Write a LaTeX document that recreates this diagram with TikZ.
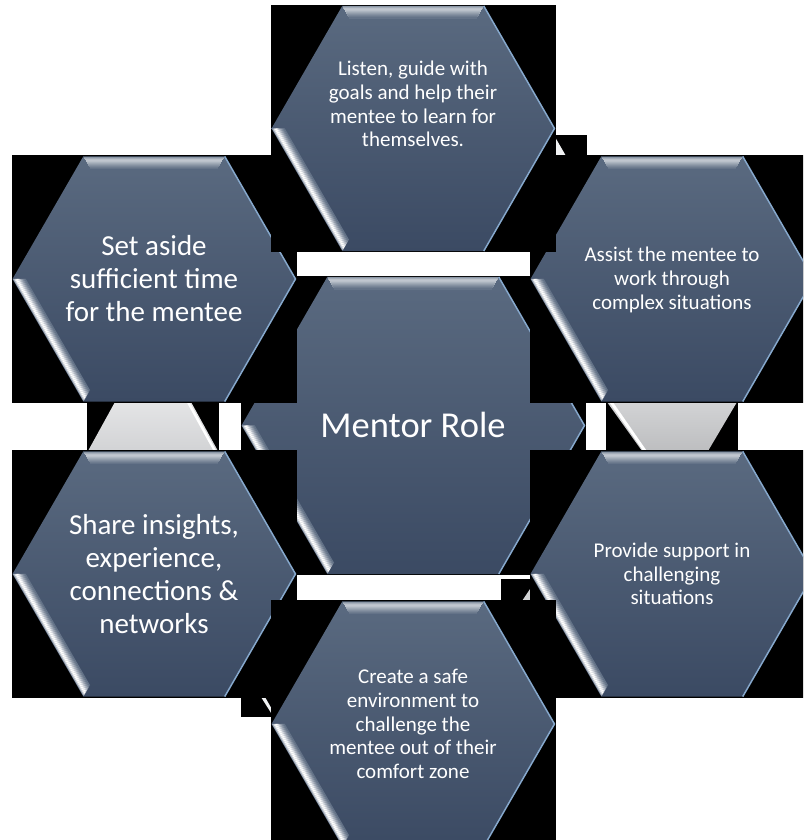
\documentclass[tikz,border=0pt]{standalone}
\usepackage{fontspec}
\setmainfont{Carlito}

\definecolor{hexTop}{HTML}{5A6A80}
\definecolor{hexBot}{HTML}{3B4A63}
\definecolor{hexEdge}{HTML}{86A8CC}
\definecolor{joinGray}{HTML}{D2D3D5}

% one bevelled hexagon on its black backing box: centre x, centre y, radius
\newcommand{\hexcell}[3]{%
  \pgfmathsetmacro{\hexR}{#3}%
  \pgfmathsetmacro{\hexH}{0.866*#3}%
  \fill[black] (#1-\hexR-1,#2-\hexH-1) rectangle (#1+\hexR+1,#2+\hexH+1);
  \shade[top color=hexTop,bottom color=hexBot] (#1-\hexR,#2) -- ++(\hexR/2,-\hexH)
    -- ++(\hexR,0) -- ++(\hexR/2,\hexH) -- ++(-\hexR/2,\hexH) -- ++(-\hexR,0) -- cycle;
  % top bevel
  \foreach \k/\p in {1/30,2/45,3/58,4/62,5/58,6/50,7/42,8/34,9/26,10/19,11/12,12/6}
    \draw[white!\p!hexTop,line width=1.1pt] (#1-\hexR/2+0.577*\k,#2-\hexH+\k)
      -- (#1+\hexR/2-0.577*\k,#2-\hexH+\k);
  % lit lower left side
  \foreach \k/\p in {1/45,2/80,3/100,4/100,5/90,6/72,7/55,8/40,9/26,10/14,11/6}
    \draw[white!\p!hexTop,line width=1.1pt] (#1-\hexR+1.155*\k,#2)
      -- (#1-\hexR/2+0.577*\k,#2+\hexH-\k);
  % rim on the right
  \draw[hexEdge,line width=1.5pt] (#1+\hexR/2,#2-\hexH) -- (#1+\hexR,#2) -- (#1+\hexR/2,#2+\hexH);
}

\begin{document}
\begin{tikzpicture}[x=1pt,y=-1pt,
        cell/.style={text=white,align=center,inner sep=0pt,
            font=\fontsize{21}{23.7}\selectfont},
        bigcell/.style={cell,font=\fontsize{29}{33}\selectfont}]
\clip (0,0) rectangle (803,840);

% middle cell goes under the ring
\hexcell{413}{425.5}{171.5}
\node[cell,font=\fontsize{36.5}{40}\selectfont] (role) at (413,425) {Mentor Role};

% grey joins showing between the cells
\fill[black] (87,402) rectangle (219,451);
\shade[top color=white!40!joinGray,bottom color=joinGray]
    (115,402) -- (191,402) -- (218,451) -- (88,451) -- cycle;
\draw[white,line width=2.5pt] (188,402) -- (215,451);

\fill[black] (606,402) rectangle (738,451);
\shade[top color=joinGray,bottom color=joinGray!90!black]
    (607,402) -- (737,402) -- (708,451) -- (642,451) -- cycle;
\draw[white,line width=3pt] (611,402) -- (645,451);

\fill[black] (553,135) rectangle (587,156);
\fill[white!70!joinGray] (555,137) -- (566,156) -- (555,156) -- cycle;
\fill[black] (241,697) rectangle (273,717);
\fill[white!70!joinGray] (261,697) -- (265,697) -- (273,711) -- (273,716) -- cycle;
\fill[black] (501,579) rectangle (530,601);
\fill[joinGray] (530,589) -- (530,601) -- (522,601) -- cycle;

% the ring
\hexcell{154}{279}{141.5}
\node[bigcell] (time) at (154,279) {Set aside\\sufficient time\\for the mentee};

\hexcell{154}{574}{141.5}
\node[bigcell] (share) at (154,574) {Share insights,\\experience,\\connections \&\\networks};

\hexcell{672}{279}{141.5}
\node[cell] (assist) at (672,280) {Assist the mentee to\\work through\\complex situations};

\hexcell{672}{574}{141.5}
\node[cell] (support) at (672,574) {Provide support in\\challenging\\situations};

\hexcell{413}{128.5}{141.5}
\node[cell] (listen) at (413,104) {Listen, guide with\\goals and help their\\mentee to learn for\\themselves.};

\hexcell{413}{724}{141.5}
\node[cell] (safe) at (413,724) {Create a safe\\environment to\\challenge the\\mentee out of their\\comfort zone};
\end{tikzpicture}
\end{document}
